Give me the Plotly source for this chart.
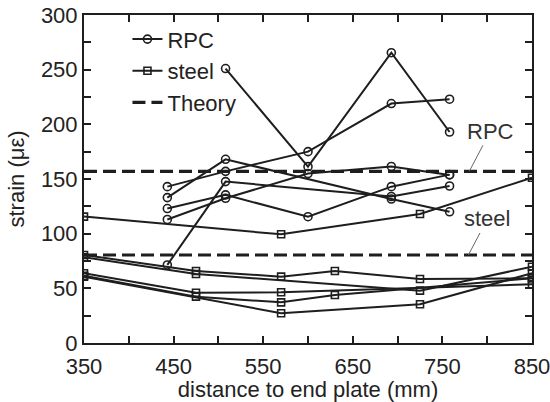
import plotly.graph_objects as go

# RPC gauges (x in mm, strain in micro-strain)
rpc_x = [443, 508, 600, 693, 758]
rpc_a = [143, 157, 175, 219, 223]
rpc_b = [133, 168, None, 131.7, 120]
rpc_c = [123, 135.5, 115.5, 143, 154]
rpc_d = [113, 132.4, 155, 161.5, 153.7]
rpc_e = [71.4, 147.6, None, 134, 143.6]
rpc_f = [None, 251, 161.3, 265.5, 193]
rpc_series = [rpc_a, rpc_b, rpc_c, rpc_d, rpc_e, rpc_f]

# steel gauges
steel_x = [350, 475, 570, 630, 725, 850]
steel_1 = [115.6, None, 99.4, None, 118, 151.2]
steel_2 = [80.5, 65.9, 60.7, 65.9, 58.6, 59.2]
steel_3 = [78.4, 63.1, None, None, 47.9, 69.8]
steel_4 = [63.8, 46, 46.4, None, None, 53.7]
steel_5 = [60.7, None, 27.2, None, 35.4, 63.8]
steel_6 = [61.5, 42.4, 37.2, 43.9, None, 59.2]
steel_series = [steel_1, steel_2, steel_3, steel_4, steel_5, steel_6]

theory_x = [350, 850]
theory_rpc = 157
theory_steel = 80.5

xticks = [350, 450, 550, 650, 750, 850]
yticks = [0, 50, 100, 150, 200, 250, 300]

INK = "#1e1e1e"
FONT = "Liberation Sans, Arial, sans-serif"

fig = go.Figure()

for i, s in enumerate(rpc_series):
    xs = [x for x, v in zip(rpc_x, s) if v is not None]
    ys = [v for v in s if v is not None]
    fig.add_trace(go.Scatter(
        x=xs, y=ys, mode="lines+markers", name="RPC",
        showlegend=(i == 0), legendgroup="rpc",
        line=dict(color=INK, width=2),
        marker=dict(symbol="circle-open", size=8, color=INK, line=dict(width=1.6)),
    ))

for i, s in enumerate(steel_series):
    xs = [x for x, v in zip(steel_x, s) if v is not None]
    ys = [v for v in s if v is not None]
    fig.add_trace(go.Scatter(
        x=xs, y=ys, mode="lines+markers", name="steel",
        showlegend=(i == 0), legendgroup="steel",
        line=dict(color=INK, width=2),
        marker=dict(symbol="square-open", size=7, color=INK, line=dict(width=1.6)),
    ))

for i, v in enumerate([theory_rpc, theory_steel]):
    fig.add_trace(go.Scatter(
        x=theory_x, y=[v, v], mode="lines", name="Theory",
        showlegend=(i == 0), legendgroup="theory",
        line=dict(color=INK, width=3.2, dash="13px,6px"),
    ))

fig.add_annotation(x=780, y=157, ax=21, ay=-40, text="RPC", showarrow=True,
                   arrowhead=0, arrowwidth=1, arrowcolor="#666666",
                   font=dict(size=22, color="#333333", family=FONT))
fig.add_annotation(x=779, y=80.5, ax=19, ay=-36, text="steel", showarrow=True,
                   arrowhead=0, arrowwidth=1, arrowcolor="#666666",
                   font=dict(size=22, color="#333333", family=FONT))

axis_common = dict(
    showline=True, linecolor=INK, linewidth=2, mirror="allticks",
    ticks="inside", ticklen=7, tickwidth=2, tickcolor=INK,
    showgrid=False, zeroline=False, automargin=False,
    ticklabeloverflow="allow",
    tickfont=dict(size=22, color="#222222", family=FONT),
)

fig.update_xaxes(
    range=[350, 850], tickvals=xticks, ticklabelstandoff=3,
    minor=dict(dtick=50, tick0=350, ticks="inside", ticklen=7, tickwidth=2, tickcolor=INK, showgrid=False),
    title=dict(text="distance to end plate (mm)", font=dict(size=22, color="#222222", family=FONT), standoff=6),
    **axis_common,
)
fig.update_yaxes(
    range=[0, 300], tickvals=yticks,
    minor=dict(dtick=25, tick0=0, ticks="inside", ticklen=7, tickwidth=2, tickcolor=INK, showgrid=False),
    title=dict(text="strain (με)", font=dict(size=22, color="#222222", family=FONT), standoff=10),
    **axis_common,
)

fig.update_layout(
    width=550, height=402,
    margin=dict(l=84, r=18, t=15, b=59),
    paper_bgcolor="white", plot_bgcolor="white",
    font=dict(family=FONT, color="#222222", size=22),
    legend=dict(x=0.097, y=0.99, xanchor="left", yanchor="top",
                bgcolor="rgba(0,0,0,0)", borderwidth=0,
                font=dict(size=22, color="#222222", family=FONT),
                tracegroupgap=0),
)

fig.write_html("out.html",
               config={"displayModeBar": False},
               post_script="document.body.style.margin='0px';document.body.style.overflow='hidden';")
